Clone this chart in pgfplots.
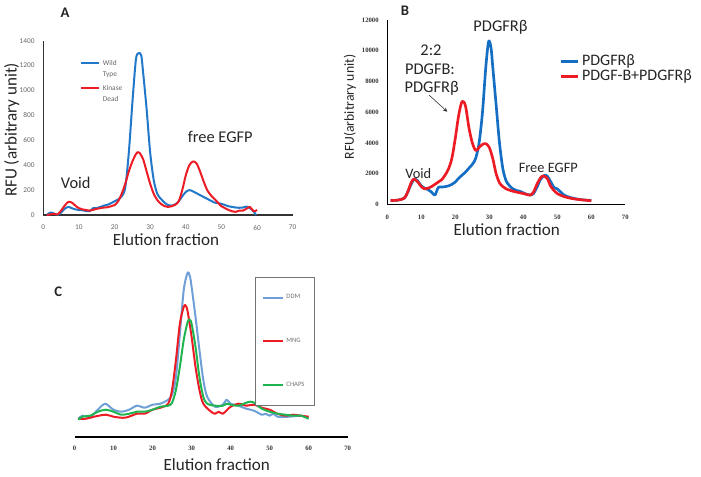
\documentclass[border=0pt]{standalone}
\usepackage{fontspec}
\setmainfont{Carlito}
\newfontfamily\tickfont{Liberation Serif}
\usepackage{pgfplots}
\pgfplotsset{compat=1.18}
\definecolor{ablue}{RGB}{33,120,200}
\definecolor{ared}{RGB}{237,28,36}
\definecolor{bblue}{RGB}{20,110,195}
\definecolor{cblue}{RGB}{110,160,215}
\definecolor{cgreen}{RGB}{30,180,80}
\definecolor{txt}{RGB}{38,38,38}
\begin{document}
\begin{tikzpicture}
\useasboundingbox (0,0) rectangle (525.75pt,-357pt);
% ---------------- Panel A
\begin{axis}[at={(32.475pt,-161.25pt)}, anchor=south west, scale only axis,
  width=187.05pt, height=130.725pt, xmin=0, xmax=70, ymin=0, ymax=1400,
  axis x line=bottom, axis y line=left, axis line style={-, line width=1.1pt, black!80},
  xtick={0,10,...,70}, ytick={0,200,...,1400}, major tick length=0pt,
  /pgf/number format/fixed, /pgf/number format/1000 sep={},
  /pgf/number format/assume math mode=true,
  tick label style={font=\fontsize{5.5}{6}\selectfont, text=black!60},
  xticklabel style={yshift=-4pt}, yticklabel style={xshift=-3pt},
  clip=false,
  legend style={at={(rel axis cs:0.147,0.915)}, anchor=north west, draw=none, fill=none,
    font=\fontsize{5.5}{8}\selectfont, text=black!60, row sep=7.5pt, inner sep=0pt},
  legend cell align=left,
  legend image code/.code={\draw[#1] (0pt,0pt) -- (13.5pt,0pt);},
  every axis plot/.append style={line width=1.5pt, smooth, line join=round}]
\addplot[ablue] coordinates {(1,0)(2,20)(3,12)(4,2)(5,20)(6,50)(7,65)(8,55)(9,45)(10,40)(11,38)(12,32)(13,30)(14,55)(15,55)(16,65)(17,75)(18,82)(19,95)(20,110)(21,125)(22,150)(23,220)(24,500)(25,900)(26,1250)(26.8,1300)(27.5,1280)(28,1150)(29,850)(30,500)(31,280)(32,170)(33,130)(34,100)(35,80)(36,75)(37,85)(38,110)(39,150)(40,185)(41,200)(42,190)(43,175)(44,160)(45,145)(46,130)(47,115)(48,100)(49,95)(50,90)(51,80)(52,70)(53,65)(54,60)(55,58)(56,60)(57,68)(58,55)(59,30)(59.7,0)};
\addlegendentry{\begin{tabular}[t]{@{}l@{}}Wild\\Type\end{tabular}}
\addplot[ared] coordinates {(1,0)(2,5)(3,10)(4,5)(5,35)(6,75)(7,105)(8,100)(9,75)(10,55)(11,45)(12,40)(13,35)(14,42)(15,50)(16,55)(17,60)(18,62)(19,70)(20,80)(21,110)(22,170)(23,250)(24,350)(25,430)(26,490)(26.5,505)(27,500)(28,450)(29,350)(30,250)(31,170)(32,120)(33,90)(34,72)(35,65)(36,70)(37,82)(38,110)(39,200)(40,320)(41,400)(42,430)(43,415)(44,350)(45,270)(46,200)(47,160)(48,130)(49,100)(50,70)(51,55)(52,40)(53,30)(54,25)(55,35)(56,35)(57,50)(58,65)(59,30)(60,40)};
\addlegendentry{\begin{tabular}[t]{@{}l@{}}Kinase\\Dead\end{tabular}}
\end{axis}
% ---------------- Panel B
\begin{axis}[at={(290.475pt,-153.225pt)}, anchor=south west, scale only axis,
  width=178.5pt, height=138.225pt, xmin=0, xmax=70, ymin=0, ymax=12000,
  axis x line=bottom, axis y line=left, axis line style={-, line width=1.1pt, black},
  xtick={0,10,...,70}, ytick={0,2000,...,12000}, major tick length=0pt,
  scaled y ticks=false, /pgf/number format/fixed, /pgf/number format/1000 sep={},
  /pgf/number format/assume math mode=true,
  tick label style={font=\tickfont\bfseries\fontsize{5}{6}\selectfont, text=black!80},
  xticklabel style={yshift=-4.5pt}, yticklabel style={xshift=-3pt},
  clip=false,
  legend style={at={(rel axis cs:0.72,0.826)}, anchor=north west, draw=none, fill=none,
    font=\fontsize{12}{14}\selectfont, text=txt, row sep=-2.5pt, inner sep=0pt},
  legend cell align=left,
  legend image code/.code={\draw[#1, line width=2.6pt] (0pt,0pt) -- (12.75pt,0pt);},
  every axis plot/.append style={line width=2pt, smooth, line join=round}]
\addplot[bblue] coordinates {(1,250)(3,270)(5,400)(6,800)(7,1300)(8,1650)(9,1500)(10,1200)(11,1050)(12,950)(13,800)(14,600)(15,1100)(16,1120)(17,1150)(18,1200)(19,1300)(20,1450)(21,1700)(22,1900)(23,2100)(24,2350)(25,2600)(26,3000)(27,4000)(28,6000)(29,9000)(29.8,10600)(30.5,10200)(31,9000)(32,6500)(33,4000)(34,2300)(35,1500)(36,1200)(37,1000)(38,900)(39,850)(40,750)(41,650)(42,600)(43,700)(44,1100)(45,1600)(46,1850)(46.5,1900)(47,1850)(48,1500)(49,1100)(50,1000)(51,800)(52,600)(53,500)(55,380)(57,300)(60,250)};
\addlegendentry{PDGFRβ}
\addplot[ared] coordinates {(1,250)(3,270)(5,400)(6,800)(7,1400)(7.8,1650)(9,1450)(10,1150)(11,1000)(12,1050)(13,1150)(14,1300)(15,1450)(16,1600)(17,1900)(18,2300)(19,3000)(20,4300)(21,5800)(22,6700)(23,6400)(24,5000)(25,4000)(26,3500)(27,3700)(28,3900)(29,3950)(30,3700)(31,3000)(32,2000)(33,1400)(34,1150)(35,1000)(37,850)(40,700)(42,600)(43,800)(44,1300)(45,1700)(45.8,1850)(47,1700)(48,1200)(49,900)(50,700)(52,500)(55,350)(60,230)};
\addlegendentry{PDGF-B+PDGFRβ}
\end{axis}
% ---------------- Panel C
\begin{axis}[at={(55.875pt,-327.525pt)}, anchor=south west, scale only axis,
  width=204.9pt, height=127.5pt, xmin=0, xmax=70, ymin=0, ymax=170,
  axis x line=bottom, axis y line=none, axis line style={-, line width=1.4pt, black},
  xtick={0,10,...,70}, ytick=\empty, major tick length=0pt,
  /pgf/number format/assume math mode=true,
  tick label style={font=\tickfont\bfseries\fontsize{5}{6}\selectfont, text=black!80},
  xticklabel style={yshift=-3.5pt},
  clip=false,
  legend style={at={(rel axis cs:0.66,0.941)}, anchor=north west, draw=black!55, fill=white,
    line width=0.5pt, font=\fontsize{5}{5}\selectfont, text=black!55, row sep=24pt,
    inner xsep=5pt, inner ysep=11pt},
  legend cell align=left,
  legend image code/.code={\draw[#1] (0pt,0pt) -- (15pt,0pt);},
  every axis plot/.append style={line width=1.5pt, smooth, line join=round}]
\addplot[cblue] coordinates {(1,18)(2,21)(4,20)(6,27)(7,31)(8,33)(9,30)(10,27)(12,25)(14,27)(16,31)(18,29)(20,32)(22,33)(24,37)(25,42)(26,60)(27,103)(28,147)(29,164)(29.6,160)(30,150)(31,120)(32,87)(33,57)(34,40)(36,30)(38,32)(39,37)(40,33)(42,31)(44,28)(46,26)(48,22)(49,23)(50,21)(51,23)(52,20)(55,20)(58,21)(60,19)};
\addlegendentry{DDM\hspace{7pt}}
\addplot[ared] coordinates {(1,18)(3,18)(5,20)(8,22)(10,20)(13,19)(16,23)(18,23)(20,27)(22,29)(24,33)(25,47)(26,77)(27,113)(28,130)(28.5,131)(29,125)(30,100)(31,70)(32,47)(33,33)(35,25)(36,23)(37,25)(38,23)(40,30)(42,33)(44,31)(46,32)(48,29)(50,27)(52,23)(54,21)(56,22)(58,21)(60,20)};
\addlegendentry{MNG}
\addplot[cgreen] coordinates {(1,17)(2,20)(4,21)(6,25)(8,27)(10,25)(12,22)(14,23)(16,25)(18,25)(20,27)(22,30)(24,31)(25,34)(26,47)(27,70)(28,97)(29,115)(29.5,117)(30,113)(31,90)(32,60)(33,40)(34,33)(36,31)(38,31)(39,33)(40,32)(42,31)(44,34)(45,35)(46,34)(48,28)(50,25)(52,23)(54,22)(56,21)(58,21)(60,18)};
\addlegendentry{CHAPS}
\end{axis}
% ---------------- Texts
\begin{scope}[x=0.75pt, y=-0.75pt, every node/.style={text=txt, inner sep=0pt}]
\node[font=\bfseries\fontsize{11}{12}\selectfont] at (65,12.5) {A};
\node[font=\fontsize{12.8}{14}\selectfont, rotate=90] at (11.7,130) {RFU (arbitrary unit)};
\node[font=\fontsize{12.8}{14}\selectfont] at (166,240) {Elution fraction};
\node[font=\fontsize{12.3}{14}\selectfont] at (75.7,183.3) {Void};
\node[font=\fontsize{12.3}{14}\selectfont] at (220.3,137) {free EGFP};
\node[font=\bfseries\fontsize{11}{12}\selectfont] at (405,11) {B};
\node[font=\fontsize{10.3}{12}\selectfont, rotate=90] at (350,107) {RFU(arbitrary unit)};
\node[font=\fontsize{12.8}{14}\selectfont] at (506.7,230) {Elution fraction};
\node[font=\fontsize{12.3}{14}\selectfont] at (500.5,27) {PDGFRβ};
\node[font=\fontsize{12.3}{14}\selectfont] at (431,50) {2:2};
\node[font=\fontsize{12.3}{14}\selectfont] at (430,69.3) {PDGFB:};
\node[font=\fontsize{12.3}{14}\selectfont] at (431.7,88.3) {PDGFRβ};
\draw[-stealth, line width=0.4pt, black!85] (429,95) -- (447.3,111.7);
\node[font=\fontsize{10.8}{12}\selectfont] at (418.3,173.3) {Void};
\node[font=\fontsize{10.8}{12}\selectfont] at (548.3,168.3) {Free EGFP};
\node[font=\bfseries\fontsize{11}{12}\selectfont] at (58.3,291.7) {C};
\node[font=\fontsize{12.8}{14}\selectfont] at (216.7,465) {Elution fraction};
\end{scope}
\end{tikzpicture}
\end{document}
